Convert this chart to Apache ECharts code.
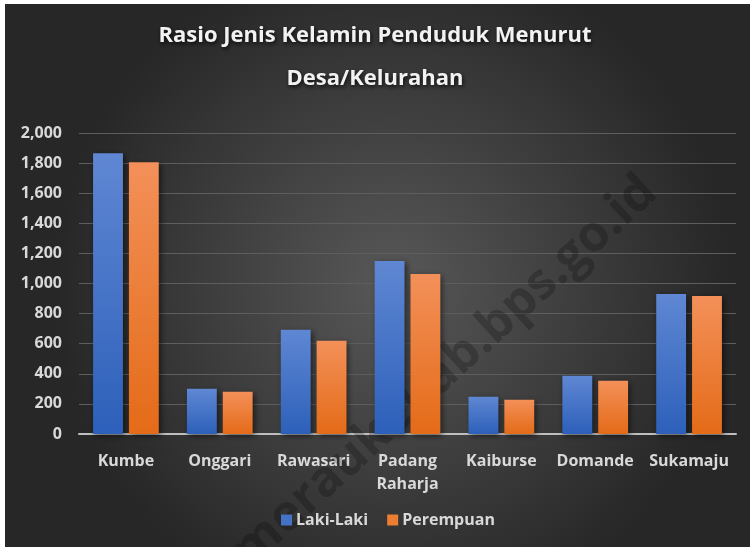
<!DOCTYPE html>
<html>
<head>
<meta charset="utf-8">
<script src="https://cdn.jsdelivr.net/npm/echarts@6/dist/echarts.min.js"></script>
<style>
html,body{margin:0;padding:0;background:#ffffff;}
#chart{width:750px;height:547px;}
</style>
</head>
<body>
<div id="chart"></div>
<script>
const categories = ['Kumbe', 'Onggari', 'Rawasari', 'Padang\nRaharja', 'Kaiburse', 'Domande', 'Sukamaju'];
const lakiLaki = [1865, 300, 692, 1149, 247, 387, 931];
const perempuan = [1806, 281, 619, 1063, 228, 354, 917];
const seriesNames = ['Laki-Laki', 'Perempuan'];
const titleLines = ['Rasio Jenis Kelamin Penduduk Menurut', 'Desa/Kelurahan'];
const watermark = 'meraukekab.bps.go.id';

const FONT = 'Open Sans';
const chart = echarts.init(document.getElementById('chart'), null, {renderer: 'canvas'});

function grad(top, bottom) {
  return new echarts.graphic.LinearGradient(0, 0, 0, 1, [
    {offset: 0, color: top}, {offset: 1, color: bottom}
  ]);
}

const titleStyle = {
  color: '#f2f2f2', fontFamily: FONT, fontWeight: 'bold', fontSize: 22,
  textShadowColor: 'rgba(0,0,0,0.8)', textShadowBlur: 4,
  textShadowOffsetX: 1, textShadowOffsetY: 2
};

const option = {
  backgroundColor: 'transparent',
  animation: false,
  graphic: [
    {
      type: 'rect', z: -10, silent: true,
      shape: {x: 5, y: 4, width: 745, height: 543},
      style: {
        fill: new echarts.graphic.RadialGradient(0.52, 0.52, 0.62, [
          {offset: 0, color: '#585858'},
          {offset: 1, color: '#272727'}
        ])
      }
    },
    {
      type: 'text', z: 1, silent: true,
      x: 445, y: 372, rotation: 0.74,
      style: {
        text: watermark, font: 'bold 50px ' + FONT,
        fill: 'rgba(0,0,0,0.22)', align: 'center', verticalAlign: 'middle'
      }
    }
  ],
  title: [
    {text: titleLines[0], left: 'center', top: 25, padding: 0, textStyle: titleStyle},
    {text: titleLines[1], left: 'center', top: 68, padding: 0, textStyle: titleStyle}
  ],
  legend: {
    data: seriesNames,
    bottom: 19,
    left: 281,
    itemWidth: 11, itemHeight: 11, itemGap: 19,
    icon: 'rect',
    padding: 0,
    textStyle: {color: '#d9d9d9', fontFamily: FONT, fontWeight: 'bold', fontSize: 16, padding: [0, 0, 0, -1]}
  },
  grid: {left: 79, right: 14, top: 133, bottom: 113, containLabel: false},
  xAxis: {
    type: 'category',
    data: categories,
    axisLine: {show: true, lineStyle: {color: '#bfbfbf', width: 2}},
    axisTick: {show: false},
    axisLabel: {
      color: '#d9d9d9', fontFamily: FONT, fontWeight: 'bold', fontSize: 16,
      margin: 16, lineHeight: 23, interval: 0
    }
  },
  yAxis: {
    type: 'value',
    min: 0, max: 2000, interval: 200,
    axisLine: {show: false},
    axisTick: {show: false},
    splitLine: {lineStyle: {color: '#5e5e5e', width: 1}},
    axisLabel: {
      color: '#d9d9d9', fontFamily: FONT, fontWeight: 'bold', fontSize: 16, margin: 17,
      formatter: v => v.toLocaleString('en-US')
    }
  },
  series: [
    {
      name: seriesNames[0], type: 'bar', data: lakiLaki,
      barGap: '20%', barCategoryGap: '30%',
      itemStyle: {
        color: grad('#5f87d3', '#2d60ba'),
        shadowColor: 'rgba(0,0,0,0.55)', shadowBlur: 6, shadowOffsetX: 2, shadowOffsetY: 2
      }
    },
    {
      name: seriesNames[1], type: 'bar', data: perempuan,
      itemStyle: {
        color: grad('#f39059', '#e46b18'),
        shadowColor: 'rgba(0,0,0,0.55)', shadowBlur: 6, shadowOffsetX: 2, shadowOffsetY: 2
      }
    }
  ]
};
option.legend.data = seriesNames.map((n, i) => ({name: n, itemStyle: {color: i === 0 ? '#4472c4' : '#ed7d31'}}));
chart.setOption(option);
</script>
</body>
</html>
